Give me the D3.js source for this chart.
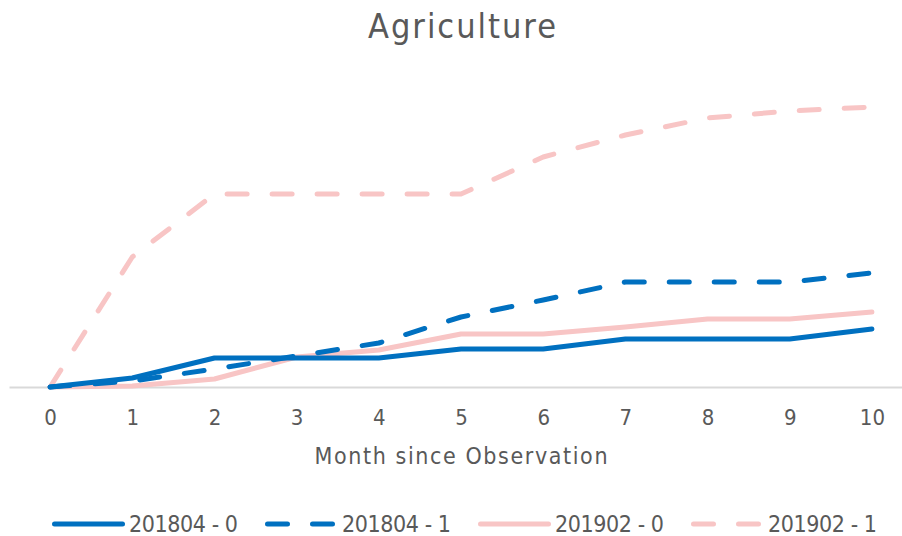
<!DOCTYPE html>
<html>
<head>
<meta charset="utf-8">
<script src="https://cdn.jsdelivr.net/npm/d3@7"></script>
<style>
  html, body { margin: 0; padding: 0; background: #fff; }
  svg { display: block; }
  text { font-family: "DejaVu Sans Condensed", "DejaVu Sans", sans-serif; fill: #595959; }
</style>
</head>
<body>
<svg id="chart" width="902" height="536"></svg>
<script>
const title = "Agriculture";
const xTitle = "Month since Observation";
const months = ["0","1","2","3","4","5","6","7","8","9","10"];
const seriesNames = ["201804 - 0", "201804 - 1", "201902 - 0", "201902 - 1"];
const s201804_0 = [0, 0.009, 0.029, 0.029, 0.029, 0.038, 0.038, 0.048, 0.048, 0.048, 0.058];
const s201804_1 = [0, 0.006, 0.018, 0.031, 0.044, 0.070, 0.087, 0.105, 0.105, 0.105, 0.114];
const s201902_0 = [0, 0.001, 0.008, 0.030, 0.037, 0.053, 0.053, 0.060, 0.068, 0.068, 0.075];
const s201902_1 = [0, 0.130, 0.193, 0.193, 0.193, 0.193, 0.230, 0.252, 0.269, 0.276, 0.280];
const seriesValues = [s201804_0, s201804_1, s201902_0, s201902_1];
const seriesColors = ["#0070C0", "#0070C0", "#F8C5C5", "#F8C5C5"];
const seriesDashed = [false, true, false, true];

const svg = d3.select("#chart");

const x = d3.scalePoint().domain(months).range([9, 913]).padding(0.5);
const y = d3.scaleLinear().domain([0, 0.3]).range([387, 87]);

// title
svg.append("text")
  .attr("x", 462).attr("y", 38)
  .attr("text-anchor", "middle")
  .attr("textLength", 188).attr("lengthAdjust", "spacing")
  .style("font-size", "34px")
  .text(title);

// x axis
const xAxis = d3.axisBottom(x).tickSize(0).tickPadding(22);
const gx = svg.append("g").attr("transform", `translate(0,${y(0)})`).call(xAxis);
gx.select(".domain").attr("stroke", "#D9D9D9").attr("stroke-width", 2);
gx.selectAll("text").style("font-size", "22px").style("fill", "#595959")
  .attr("font-family", null);

svg.append("text")
  .attr("x", 461).attr("y", 464)
  .attr("text-anchor", "middle")
  .attr("textLength", 293).attr("lengthAdjust", "spacing")
  .style("font-size", "23px")
  .text(xTitle);

// lines
const line = d3.line()
  .x((d, i) => x(months[i]))
  .y(d => y(d))
  .curve(d3.curveLinear);

const order = [3, 2, 1, 0];
order.forEach(k => {
  svg.append("path")
    .datum(seriesValues[k])
    .attr("d", line)
    .attr("fill", "none")
    .attr("stroke", seriesColors[k])
    .attr("stroke-width", 5)
    .attr("stroke-linecap", "round")
    .attr("stroke-linejoin", "round")
    .attr("stroke-dasharray", seriesDashed[k] ? "20,25" : null);
});

// legend
const legendX = [52, 265, 478, 691];
const lg = svg.append("g");
seriesNames.forEach((name, k) => {
  const g = lg.append("g").attr("transform", `translate(${legendX[k]},524)`);
  g.append("line")
    .attr("x1", 2.5).attr("x2", 70.5).attr("y1", 0).attr("y2", 0)
    .attr("stroke", seriesColors[k])
    .attr("stroke-width", 5)
    .attr("stroke-linecap", "round")
    .attr("stroke-dasharray", seriesDashed[k] ? "20,25" : null);
  g.append("text")
    .attr("x", 77).attr("y", 8)
    .attr("textLength", 109).attr("lengthAdjust", "spacing")
    .style("font-size", "23px")
    .text(name);
});
</script>
</body>
</html>
